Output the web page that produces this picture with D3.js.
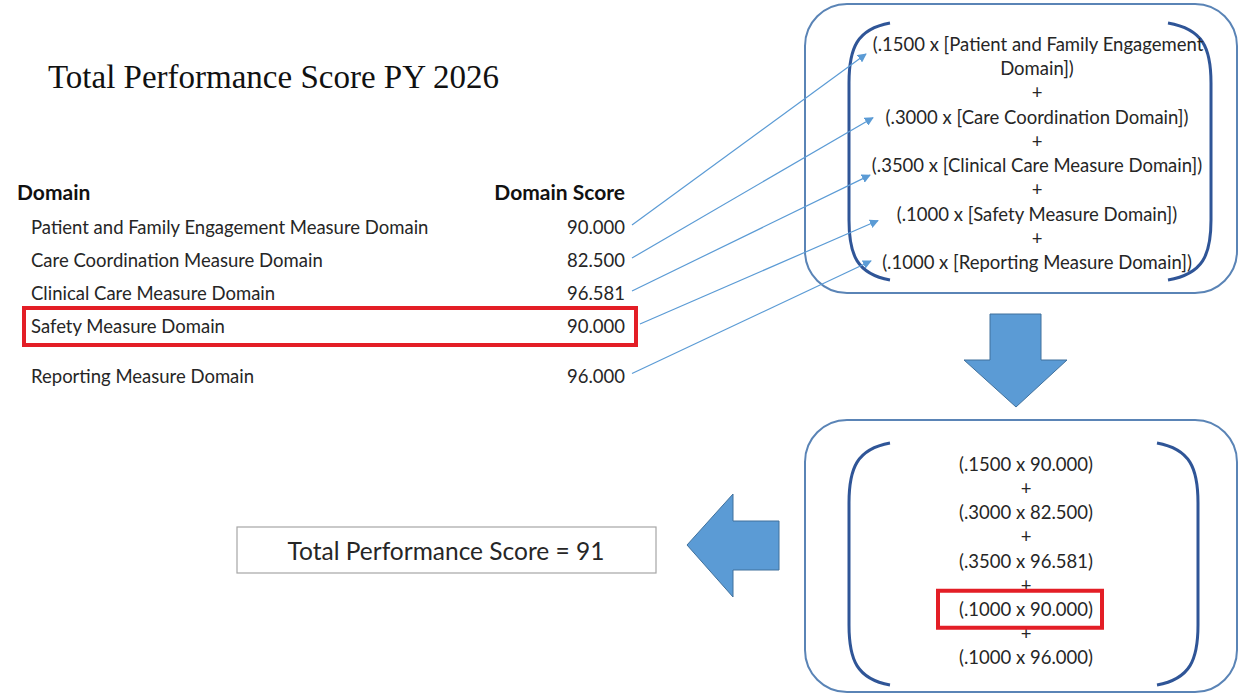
<!DOCTYPE html>
<html>
<head>
<meta charset="utf-8">
<script src="https://cdn.jsdelivr.net/npm/d3@7/dist/d3.min.js"></script>
<style>
  html, body { margin: 0; padding: 0; background: #ffffff; }
  svg { display: block; }
</style>
</head>
<body>
<svg id="chart" width="1240" height="695"></svg>
<script>
// ---------- data ----------
const title = "Total Performance Score PY 2026";
const headerDomain = "Domain";
const headerScore = "Domain Score";
const domains = [
  "Patient and Family Engagement Measure Domain",
  "Care Coordination Measure Domain",
  "Clinical Care Measure Domain",
  "Safety Measure Domain",
  "Reporting Measure Domain"
];
const scores = [90.000, 82.500, 96.581, 90.000, 96.000];
const weights = [".1500", ".3000", ".3500", ".1000", ".1000"];
const formulaNames = [
  ["Patient and Family Engagement", "Domain]"],
  ["Care Coordination Domain]"],
  ["Clinical Care Measure Domain]"],
  ["Safety Measure Domain]"],
  ["Reporting Measure Domain]"]
];
const highlightIndex = 3;
const totalScore = 91;

// ---------- styles ----------
const sans = "Lato, 'Open Sans', sans-serif";
const serif = "'Liberation Serif', 'Times New Roman', serif";
const textColor = "#262626";
const boxStroke = "#5a84b6";
const bracketStroke = "#2f5597";
const lineBlue = "#5b9bd5";
const red = "#e31e26";
const bodySize = 18.5;

const svg = d3.select("#chart");

// marker
svg.append("defs").append("marker")
  .attr("id", "tri")
  .attr("viewBox", "0 0 10 10")
  .attr("refX", 9).attr("refY", 5)
  .attr("markerWidth", 9).attr("markerHeight", 9)
  .attr("markerUnits", "userSpaceOnUse")
  .attr("orient", "auto")
  .append("path").attr("d", "M0,0 L10,5 L0,10 Z").attr("fill", lineBlue);

// ---------- title ----------
svg.append("text")
  .attr("x", 48).attr("y", 88)
  .attr("font-family", serif).attr("font-size", 33)
  .attr("fill", "#111")
  .text(title);

// ---------- table ----------
// row slot: the last row sits after an extra half-row gap
const slot = i => i + (i === domains.length - 1 ? 0.5 : 0);
const yRow = d3.scaleLinear().domain([0, 1]).range([227, 260]);

svg.append("text").attr("x", 17).attr("y", yRow(-1.07))
  .attr("dominant-baseline", "central")
  .attr("font-family", sans).attr("font-weight", "bold").attr("font-size", 21)
  .attr("fill", "#111").text(headerDomain);
svg.append("text").attr("x", 625).attr("y", yRow(-1.07))
  .attr("dominant-baseline", "central").attr("text-anchor", "end")
  .attr("font-family", sans).attr("font-weight", "bold").attr("font-size", 21)
  .attr("fill", "#111").text(headerScore);

const rows = svg.append("g").selectAll("g").data(domains).join("g")
  .attr("transform", (d, i) => `translate(0,${yRow(slot(i))})`);
rows.append("text").attr("x", 31)
  .attr("dominant-baseline", "central")
  .attr("font-family", sans).attr("font-size", bodySize).attr("fill", textColor)
  .text(d => d);
rows.append("text").attr("x", 625).attr("text-anchor", "end")
  .attr("dominant-baseline", "central")
  .attr("font-family", sans).attr("font-size", bodySize).attr("fill", textColor)
  .text((d, i) => d3.format(".3f")(scores[i]));

// red highlight in table
svg.append("rect")
  .attr("x", 24).attr("y", yRow(slot(highlightIndex)) - 18)
  .attr("width", 612).attr("height", 37)
  .attr("fill", "none").attr("stroke", red).attr("stroke-width", 4);

// ---------- top formula box ----------
svg.append("rect").attr("x", 805).attr("y", 4).attr("width", 432).attr("height", 289)
  .attr("rx", 42).attr("fill", "none").attr("stroke", boxStroke).attr("stroke-width", 2);

function brackets(top, bottom, lx, rxTop, rxOut) {
  const lxTop = lx + 41;
  const g = svg.append("g").attr("fill", "none").attr("stroke", bracketStroke).attr("stroke-width", 3);
  g.append("path").attr("d",
    `M${lxTop},${top} C${lx + 8},${top + 6} ${lx},${top + 25} ${lx},${top + 60} L${lx},${bottom - 60} C${lx},${bottom - 25} ${lx + 8},${bottom - 6} ${lxTop},${bottom}`);
  g.append("path").attr("d",
    `M${rxTop},${top} C${rxOut - 8},${top + 6} ${rxOut},${top + 25} ${rxOut},${top + 60} L${rxOut},${bottom - 60} C${rxOut},${bottom - 25} ${rxOut - 8},${bottom - 6} ${rxTop},${bottom}`);
}
brackets(23, 280, 849, 1168, 1211);

// build formula lines
const topLines = [];
const domainLineIndex = [];
domains.forEach((d, i) => {
  if (i > 0) topLines.push("+");
  const parts = formulaNames[i];
  domainLineIndex.push(topLines.length);
  if (parts.length === 1) {
    topLines.push(`(${weights[i]} x [${parts[0]})`);
  } else {
    topLines.push(`(${weights[i]} x [${parts[0]}`);
    topLines.push(`${parts[1]})`);
  }
});
const yTop = d3.scalePoint().domain(d3.range(topLines.length)).range([44, 262]);
svg.append("g").selectAll("text").data(topLines).join("text")
  .attr("x", (d, i) => i === 0 ? 1038 : (i === 1 ? 1037 : 1037))
  .attr("y", (d, i) => yTop(i))
  .attr("text-anchor", "middle").attr("dominant-baseline", "central")
  .attr("font-family", sans).attr("font-size", bodySize).attr("fill", textColor)
  .text(d => d);

// connector lines
const endOffsets = [
  { x: 866, dy: 10 }, { x: 873, dy: 1 }, { x: 870, dy: 10 }, { x: 878, dy: 7 }, { x: 871, dy: -1 }
];
svg.append("g").selectAll("line").data(domains).join("line")
  .attr("x1", (d, i) => i === highlightIndex ? 640 : 632)
  .attr("y1", (d, i) => yRow(slot(i)) - 2)
  .attr("x2", (d, i) => endOffsets[i].x)
  .attr("y2", (d, i) => yTop(domainLineIndex[i]) + endOffsets[i].dy)
  .attr("stroke", lineBlue).attr("stroke-width", 1.2)
  .attr("marker-end", "url(#tri)");

// ---------- block arrows ----------
const arrowFill = "#5b9bd5", arrowStroke = "#41719c";
svg.append("path")
  .attr("d", "M990,314 L1041,314 L1041,360 L1067,360 L1016,407 L964,360 L990,360 Z")
  .attr("fill", arrowFill).attr("stroke", arrowStroke).attr("stroke-width", 1);
svg.append("path")
  .attr("d", "M687,545 L733,494 L733,521 L779,521 L779,570 L733,570 L733,597 Z")
  .attr("fill", arrowFill).attr("stroke", arrowStroke).attr("stroke-width", 1);

// ---------- bottom formula box ----------
svg.append("rect").attr("x", 805).attr("y", 420).attr("width", 432).attr("height", 272)
  .attr("rx", 42).attr("fill", "none").attr("stroke", boxStroke).attr("stroke-width", 2);
brackets(443, 685, 849, 1157, 1198);

const botLines = [];
const botDomainIndex = [];
scores.forEach((s, i) => {
  if (i > 0) botLines.push("+");
  botDomainIndex.push(botLines.length);
  botLines.push(`(${weights[i]} x ${d3.format(".3f")(s)})`);
});
const yBot = d3.scalePoint().domain(d3.range(botLines.length)).range([464, 657]);
svg.append("g").selectAll("text").data(botLines).join("text")
  .attr("x", 1026).attr("y", (d, i) => yBot(i))
  .attr("text-anchor", "middle").attr("dominant-baseline", "central")
  .attr("font-family", sans).attr("font-size", bodySize).attr("fill", textColor)
  .text(d => d);

svg.append("rect")
  .attr("x", 938).attr("y", yBot(botDomainIndex[highlightIndex]) - 18)
  .attr("width", 164).attr("height", 37)
  .attr("fill", "none").attr("stroke", red).attr("stroke-width", 4);

// ---------- total box ----------
svg.append("rect").attr("x", 237).attr("y", 527).attr("width", 419).attr("height", 46)
  .attr("fill", "#fff").attr("stroke", "#a6a6a6").attr("stroke-width", 1.2);
svg.append("text").attr("x", 446).attr("y", 550)
  .attr("text-anchor", "middle").attr("dominant-baseline", "central")
  .attr("font-family", sans).attr("font-size", 24.5).attr("fill", textColor)
  .text(`Total Performance Score = ${totalScore}`);
</script>
</body>
</html>
